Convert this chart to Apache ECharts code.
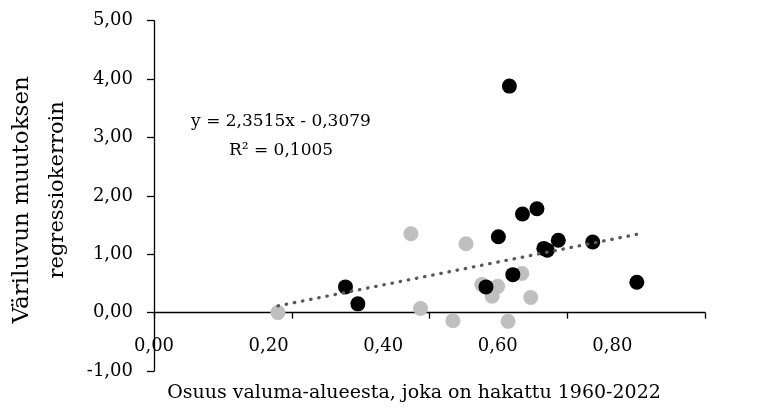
<!DOCTYPE html>
<html>
<head>
<meta charset="utf-8">
<script src="https://cdn.jsdelivr.net/npm/echarts@6/dist/echarts.min.js"></script>
<style>
  html, body { margin: 0; padding: 0; background: #fff; }
  #chart { width: 763px; height: 410px; }
</style>
</head>
<body>
<div id="chart"></div>
<script>
// Share of catchment clear-cut 1960-2022 (x) vs. colour-change regression coefficient (y)
const grayX = [0.180, 0.373, 0.387, 0.453, 0.534, 0.476, 0.499, 0.491, 0.547, 0.434, 0.514];
const grayY = [0.00, 1.35, 0.07, 1.18, 0.67, 0.48, 0.45, 0.28, 0.26, -0.14, -0.15];
const blackX = [0.278, 0.296, 0.535, 0.556, 0.500, 0.566, 0.571, 0.587, 0.637, 0.701, 0.521, 0.482, 0.516];
const blackY = [0.44, 0.15, 1.69, 1.78, 1.30, 1.10, 1.07, 1.24, 1.21, 0.52, 0.65, 0.44, 3.88];

// Linear trend fitted over all points
const slope = 2.3515;
const intercept = -0.3079;
const rSquared = 0.1005;

const xTicks = [0, 0.2, 0.4, 0.6, 0.8];
const yTicks = [-1, 0, 1, 2, 3, 4, 5];

const FONT = 'DejaVu Serif';
const fmt = (v, d) => v.toFixed(d).replace('.', ',');

const allX = grayX.concat(blackX);
const xStart = Math.min.apply(null, allX);
const xEnd = Math.max.apply(null, allX);
const trend = [[xStart, slope * xStart + intercept], [xEnd, slope * xEnd + intercept]];

const pairs = (xs, ys) => xs.map((x, i) => [x, ys[i]]);

// plot box
const GRID = { left: 154, right: 58, top: 20.7, bottom: 39 };
const plotH = 410 - GRID.top - GRID.bottom;
// distance from the bottom of the plot up to the y = 0 line
const zeroLift = plotH * (0 - yTicks[0]) / (yTicks[yTicks.length - 1] - yTicks[0]);

const chart = echarts.init(document.getElementById('chart'), null, { renderer: 'canvas' });
chart.setOption({
  animation: false,
  backgroundColor: '#fff',
  grid: [
    Object.assign({ containLabel: false, outerBoundsMode: 'none' }, GRID),
    // helper band for the x tick labels and the x title
    { left: GRID.left, right: GRID.right, top: GRID.top, bottom: 119, containLabel: false, outerBoundsMode: 'none' }
  ],
  xAxis: [
    {
      type: 'value', gridIndex: 0,
      position: 'bottom',
      offset: -zeroLift,
      min: xTicks[0], max: xTicks[xTicks.length - 1], interval: 0.2,
      axisLine: { show: true, onZero: false, lineStyle: { color: '#000', width: 1.3 } },
      axisTick: { show: true, inside: false, length: 6, lineStyle: { color: '#000', width: 1.3 } },
      axisLabel: { show: false },
      splitLine: { show: false }
    },
    {
      type: 'value', gridIndex: 1,
      position: 'bottom',
      min: 0, max: 0.9617, interval: 0.2,
      axisLine: { show: false, onZero: false },
      axisTick: { show: false },
      axisLabel: {
        show: true, margin: 46, showMaxLabel: false,
        color: '#000', fontFamily: FONT, fontSize: 18,
        formatter: v => (v > 0.81 ? '' : fmt(v, 2))
      },
      splitLine: { show: false },
      name: 'Osuus valuma-alueesta, joka on hakattu 1960-2022',
      nameLocation: 'middle',
      nameGap: 93,
      nameTextStyle: { color: '#000', fontFamily: FONT, fontSize: 19, padding: [0, 31, 0, 0] }
    }
  ],
  yAxis: [
    {
      type: 'value', gridIndex: 0,
      min: yTicks[0], max: yTicks[yTicks.length - 1], interval: 1,
      axisLine: { show: true, onZero: false, lineStyle: { color: '#000', width: 1.3 } },
      axisTick: { show: true, inside: false, length: 7, lineStyle: { color: '#000', width: 1.3 } },
      axisLabel: { color: '#000', fontFamily: FONT, fontSize: 18, margin: 21, formatter: v => fmt(v, 2) },
      splitLine: { show: false },
      name: '{a|Väriluvun muutoksen}\n{b|regressiokerroin}',
      nameLocation: 'middle',
      nameRotate: 90,
      nameGap: 74,
      nameTextStyle: {
        color: '#000', fontFamily: FONT, fontSize: 21, lineHeight: 36,
        rich: {
          a: { fontFamily: FONT, fontSize: 23, color: '#000', lineHeight: 36, padding: [0, 8, 0, 0] },
          b: { fontFamily: FONT, fontSize: 21, color: '#000', lineHeight: 36, padding: [0, 0, 0, 12] }
        }
      }
    },
    {
      type: 'value', gridIndex: 1, show: false,
      min: 0, max: 5
    }
  ],
  graphic: [
    {
      type: 'text', x: 281, y: 107, z: 10,
      style: {
        text: 'y = ' + fmt(slope, 4) + 'x - ' + fmt(-intercept, 4) + '\nR² = ' + fmt(rSquared, 4),
        fill: '#000', font: '17px "' + FONT + '"', align: 'center', verticalAlign: 'top', lineHeight: 29
      }
    }
  ],
  series: [
    {
      type: 'scatter', name: 'gray', xAxisIndex: 0, yAxisIndex: 0, z: 2,
      symbol: 'circle', symbolSize: 15,
      itemStyle: { color: '#bfbfbf', opacity: 1 },
      data: pairs(grayX, grayY)
    },
    {
      type: 'scatter', name: 'black', xAxisIndex: 0, yAxisIndex: 0, z: 3,
      symbol: 'circle', symbolSize: 15,
      itemStyle: { color: '#000', opacity: 1 },
      data: pairs(blackX, blackY)
    },
    {
      type: 'line', name: 'trend', xAxisIndex: 0, yAxisIndex: 0, z: 4,
      symbol: 'none', silent: true,
      lineStyle: { color: '#595959', width: 3.3, type: [0.5, 7.8], cap: 'round' },
      data: trend
    }
  ]
});
</script>
</body>
</html>
